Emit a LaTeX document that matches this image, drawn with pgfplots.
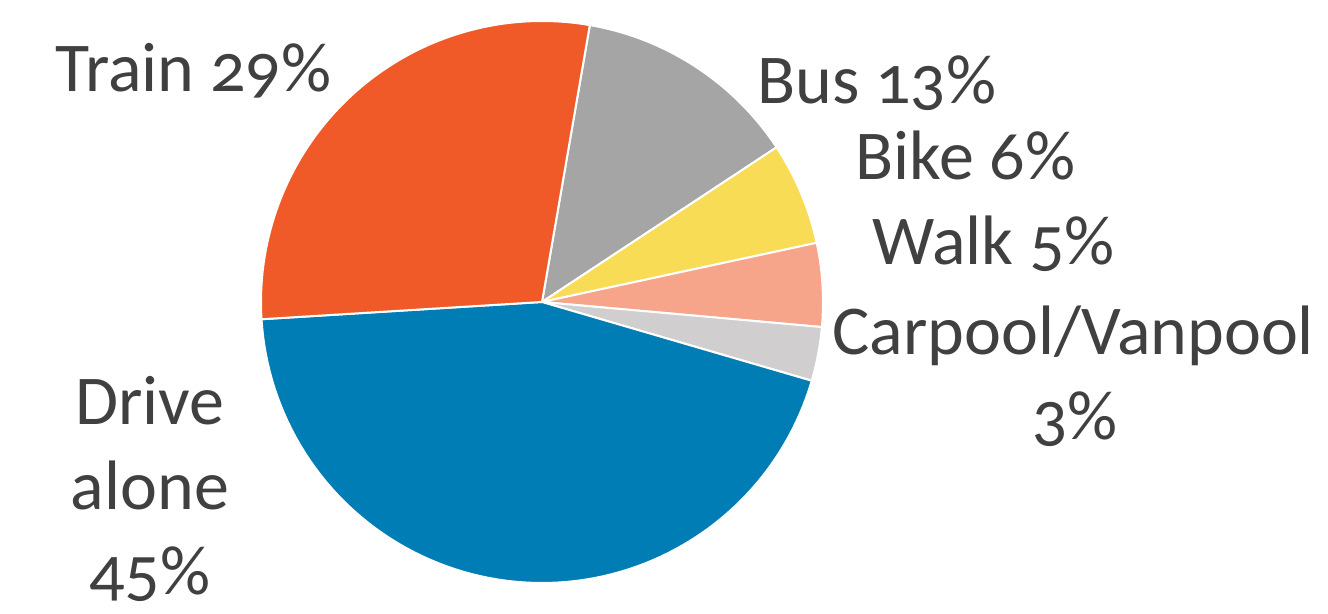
\documentclass[border=0pt]{standalone}
\usepackage{pgfplots}
\pgfplotsset{compat=1.18}
\usepackage{fontspec}
\setmainfont{Carlito}[Numbers=OldStyle]
\definecolor{cTrain}{HTML}{F05A28}
\definecolor{cBus}{HTML}{A5A5A5}
\definecolor{cBike}{HTML}{F9DC56}
\definecolor{cWalk}{HTML}{F6A48A}
\definecolor{cCar}{HTML}{D0CECE}
\definecolor{cDrive}{HTML}{007DB5}
\definecolor{txt}{HTML}{404040}
% shares (percent), clockwise from the Train/Bus boundary
\def\vBus{13.0}\def\vBike{5.9}\def\vWalk{4.8}\def\vCar{3.1}\def\vDrive{44.5}\def\vTrain{28.7}
\def\aStart{80.2}
\newcommand\slice[3]{%
  \addplot[fill=#3, draw=white, line width=1pt, line join=round, domain=#2:#1, samples=90, variable=\t]
    ({542+281*cos(\t)},{312+281*sin(\t)}) -- (axis cs:542,312) -- cycle;}
\tikzset{lbl/.style={font=\fontsize{35}{42}\selectfont, text=txt, inner sep=0pt}}
\begin{document}
\begin{tikzpicture}
\pgfmathsetmacro\aA{\aStart}
\pgfmathsetmacro\aB{\aA-3.6*\vBus}
\pgfmathsetmacro\aC{\aB-3.6*\vBike}
\pgfmathsetmacro\aD{\aC-3.6*\vWalk}
\pgfmathsetmacro\aE{\aD-3.6*\vCar}
\pgfmathsetmacro\aF{\aE-3.6*\vDrive}
\pgfmathsetmacro\aG{\aF-3.6*\vTrain}
\begin{axis}[x=0.5pt, y=0.5pt, xmin=0, xmax=1328, ymin=0, ymax=614,
  hide axis, clip=false]
\addplot[draw=none, forget plot] coordinates {(0,0) (1328,614)};
\slice{\aA}{\aB}{cBus}
\slice{\aB}{\aC}{cBike}
\slice{\aC}{\aD}{cWalk}
\slice{\aD}{\aE}{cCar}
\slice{\aE}{\aF}{cDrive}
\slice{\aF}{\aG}{cTrain}
\node[lbl, anchor=base west] at (axis cs:55,522) {Train 29\%};
\node[lbl, anchor=base west] at (axis cs:757,510) {Bus 13\%};
\node[lbl, anchor=base west] at (axis cs:855,434) {Bike 6\%};
\node[lbl, anchor=base west] at (axis cs:872,349) {Walk 5\%};
\node[lbl, anchor=base west] at (axis cs:832,259) {Carpool/Vanpool};
\node[lbl, anchor=base] at (axis cs:1075,174) {3\%};
\node[lbl, anchor=base] at (axis cs:150,189) {Drive};
\node[lbl, anchor=base] at (axis cs:150,104) {alone};
\node[lbl, anchor=base] at (axis cs:150,19) {45\%};
\end{axis}
\end{tikzpicture}
\end{document}
